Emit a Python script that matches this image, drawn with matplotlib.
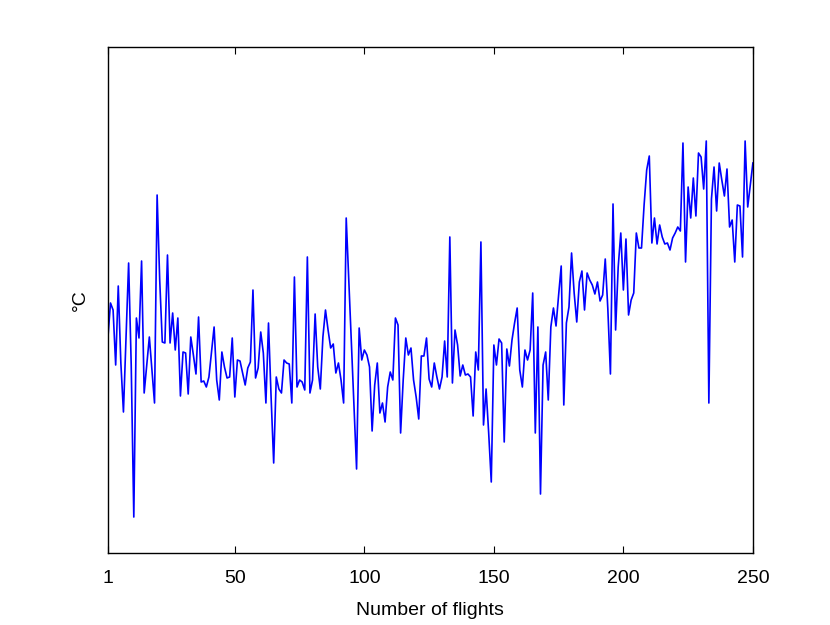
import numpy as np
import matplotlib
matplotlib.use('Agg')
import matplotlib.pyplot as plt

# temperature per flight (arbitrary units - the chart has no y ticks)
temp = [
    21.5, 25.0, 24.3, 18.8, 26.7, 19.0, 14.1, 21.6, 29.0, 18.8,
    3.6, 23.5, 21.5, 29.2, 16.0, 18.8, 21.6, 18.3, 15.0, 35.8,
    27.3, 21.1, 21.0, 29.8, 21.0, 24.0, 20.3, 23.5, 15.7, 20.1,
    20.0, 15.9, 21.6, 19.8, 17.9, 23.6, 17.1, 17.2, 16.6, 17.6,
    20.1, 22.6, 17.3, 15.3, 20.1, 18.6, 17.5, 17.6, 21.5, 15.6,
    19.3, 19.2, 18.0, 16.8, 18.5, 19.1, 26.3, 17.5, 18.5, 22.1,
    20.0, 15.0, 23.0, 15.6, 9.0, 17.6, 16.4, 16.0, 19.3, 19.0,
    18.9, 15.0, 27.6, 16.6, 17.3, 17.1, 16.3, 29.6, 16.0, 17.3,
    23.9, 18.6, 16.4, 21.6, 24.3, 22.3, 20.5, 20.9, 18.0, 19.0,
    17.3, 15.0, 33.5, 27.3, 21.0, 14.6, 8.4, 22.5, 19.3, 20.3,
    19.8, 18.6, 12.2, 16.8, 19.0, 14.0, 15.0, 13.1, 16.6, 18.1,
    17.3, 23.5, 22.8, 12.0, 17.3, 21.5, 19.8, 20.5, 17.3, 15.6,
    13.4, 19.7, 19.7, 21.5, 17.4, 16.6, 19.0, 17.6, 16.4, 17.6,
    21.2, 17.6, 31.6, 17.0, 22.3, 20.8, 17.7, 18.8, 17.8, 17.9,
    17.6, 13.7, 20.1, 18.3, 31.1, 12.8, 16.4, 12.0, 7.1, 20.8,
    18.8, 21.4, 21.0, 11.1, 20.4, 18.7, 21.3, 23.0, 24.5, 18.3,
    16.6, 20.3, 19.3, 20.3, 26.0, 12.0, 22.6, 5.9, 18.8, 20.1,
    15.3, 22.6, 24.5, 22.7, 25.8, 28.7, 14.8, 23.0, 24.6, 30.0,
    26.0, 23.1, 27.1, 28.2, 24.3, 28.0, 27.3, 26.8, 25.9, 27.1,
    25.2, 25.8, 29.4, 24.4, 17.9, 34.9, 22.3, 28.6, 32.0, 26.3,
    31.4, 23.8, 25.3, 26.0, 32.0, 30.5, 30.5, 34.8, 38.3, 39.7,
    31.0, 33.5, 30.9, 32.8, 31.6, 30.9, 31.0, 30.3, 31.5, 32.0,
    32.6, 32.2, 41.0, 29.1, 36.6, 33.5, 37.5, 33.7, 40.0, 39.6,
    36.4, 41.2, 15.0, 35.4, 38.6, 34.2, 39.0, 37.3, 35.7, 38.4,
    32.6, 33.3, 29.1, 34.8, 34.7, 29.6, 41.2, 34.6, 36.8, 39.0,
]
flights = np.arange(1, len(temp) + 1)
xticks = [1, 50, 100, 150, 200, 250]

plt.rcParams['font.family'] = ['Liberation Sans', 'DejaVu Sans']

fig = plt.figure(figsize=(8.3, 6.25), dpi=100)
ax = fig.add_axes([0.13, 0.1152, 0.7771, 0.8096])

ax.plot(flights, temp, color=(0, 0, 1), linewidth=1.2)

ax.set_xlim(1, 250)
ax.set_ylim(0, 50.6)
ax.set_xticks(xticks)
ax.set_xticklabels([str(t) for t in xticks], fontsize=14)
ax.set_yticks([])
ax.tick_params(axis='x', direction='in', length=5, width=0.8, top=True, pad=12)

for s in ax.spines.values():
    s.set_linewidth(1.0)
    s.set_color('black')

ax.set_xlabel('Number of flights', fontsize=14, labelpad=11)
ax.set_ylabel('°C', fontsize=14, labelpad=14)

fig.savefig('out.png', dpi=100)
